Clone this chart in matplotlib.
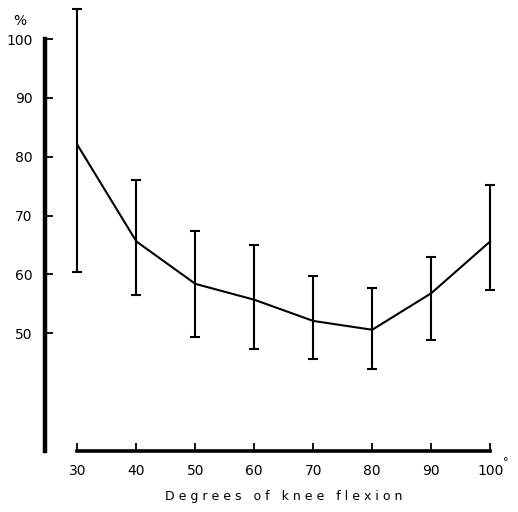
import matplotlib.pyplot as plt

# knee flexion angle (degrees) and values (%) with error bar limits
angles = [30, 40, 50, 60, 70, 80, 90, 100]
means = [82.0, 65.6, 58.4, 55.7, 52.1, 50.6, 56.8, 65.6]
upper = [105.1, 76.1, 67.4, 65.0, 59.8, 57.7, 62.9, 75.2]
lower = [60.4, 56.5, 49.3, 47.3, 45.6, 43.9, 48.9, 57.3]

yticks = [50, 60, 70, 80, 90, 100]
xticks = [30, 40, 50, 60, 70, 80, 90, 100]

err_low = [m - l for m, l in zip(means, lower)]
err_up = [u - m for u, m in zip(upper, means)]

fig = plt.figure(figsize=(5.18, 5.12), dpi=100)
ax = fig.add_axes([0.0869, 0.1191, 0.8707, 0.8737])

ax.errorbar(angles, means, yerr=[err_low, err_up], color='black',
            linewidth=1.5, elinewidth=1.5, capsize=3.8, capthick=1.5)

ax.set_xlim(24.5, 101)
ax.set_ylim(30, 106)

ax.spines['top'].set_visible(False)
ax.spines['right'].set_visible(False)
ax.spines['left'].set_linewidth(3.2)
ax.spines['bottom'].set_linewidth(2.6)
ax.spines['left'].set_bounds(30, 100)
ax.spines['bottom'].set_bounds(30, 100)

ax.set_yticks(yticks)
ax.set_xticks(xticks)
ax.set_xticklabels([str(t) for t in xticks])
ax.tick_params(axis='y', direction='in', length=6, width=1.3, pad=9, labelsize=10)
ax.tick_params(axis='x', direction='in', length=6, width=1.3, pad=9, labelsize=10)

# percent sign above the 100 label, small degree sign after the last x label
ax.text(-0.055, 0.953, '%', transform=ax.transAxes, fontsize=10, ha='center', va='baseline')
ax.text(1.016, -0.024, '°', transform=ax.transAxes, fontsize=8, ha='left', va='center')

ax.set_xlabel('D e g r e e s   o f   k n e e   f l e x i o n', fontsize=9, labelpad=9,
              x=(65 - 24.5) / (101 - 24.5))

plt.savefig('out.png', dpi=100)
